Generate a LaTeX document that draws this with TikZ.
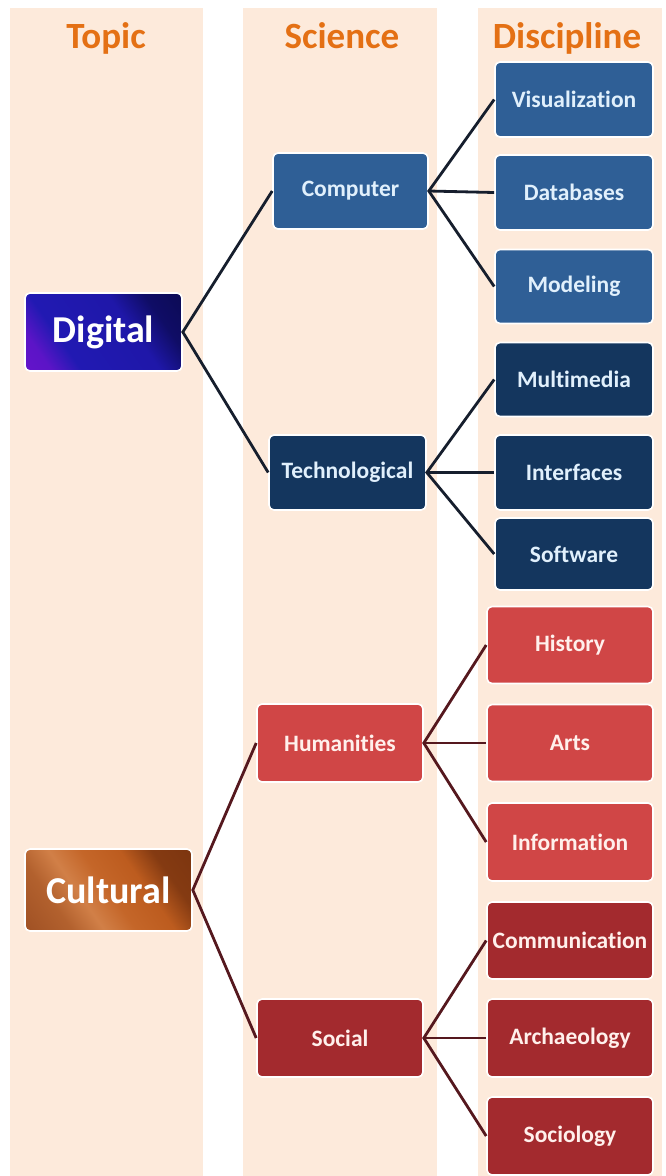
\documentclass[tikz,border=0pt]{standalone}
\usepackage{fontspec}
\setmainfont{Carlito}[Ligatures=NoCommon]
\definecolor{peach}{RGB}{253,234,219}
\definecolor{hdr}{RGB}{228,112,20}
\definecolor{compblue}{RGB}{47,95,150}
\definecolor{techblue}{RGB}{20,54,94}
\definecolor{humred}{RGB}{208,70,70}
\definecolor{socred}{RGB}{163,42,46}
\definecolor{bluetext}{RGB}{225,240,252}
\definecolor{redtext}{RGB}{255,240,236}
\definecolor{bline}{RGB}{22,30,45}
\definecolor{rline}{RGB}{85,24,30}
\pgfdeclarehorizontalshading{digishade}{100bp}{rgb(0bp)=(0.45,0.08,0.82); rgb(24bp)=(0.36,0.08,0.78); rgb(34bp)=(0.13,0.1,0.70); rgb(60bp)=(0.12,0.09,0.66); rgb(72bp)=(0.06,0.05,0.40); rgb(100bp)=(0.03,0.03,0.25)}
\pgfdeclarehorizontalshading{cultshade}{100bp}{rgb(0bp)=(0.55,0.25,0.10); rgb(30bp)=(0.70,0.38,0.18); rgb(40bp)=(0.82,0.50,0.28); rgb(50bp)=(0.77,0.40,0.16); rgb(62bp)=(0.74,0.36,0.12); rgb(72bp)=(0.52,0.23,0.07); rgb(100bp)=(0.45,0.18,0.05)}
\tikzset{
  colbg/.style={fill=peach, draw=none},
  header/.style={text=hdr, anchor=base, font=\fontsize{37}{40}\selectfont\bfseries},
  box/.style={rounded corners=5pt, draw=white, line width=1.6pt, inner sep=0pt,
    font=\fontsize{23.5}{26}\selectfont\bfseries},
  topicbox/.style={box, font=\fontsize{38}{42}\selectfont\bfseries, text=white},
  comp/.style={box, fill=compblue, text=bluetext},
  tech/.style={box, fill=techblue, text=bluetext},
  hum/.style={box, fill=humred, text=redtext},
  soc/.style={box, fill=socred, text=redtext},
  bconn/.style={draw=bline, line width=2.8pt},
  rconn/.style={draw=rline, line width=2.8pt},
}
\begin{document}
\begin{tikzpicture}[x=1pt,y=-1pt]
\useasboundingbox[fill=white] (0,0) rectangle (665,1176);
% column backgrounds
\fill[colbg] (10,8) rectangle (203,1176);
\fill[colbg] (243,8) rectangle (437,1176);
\fill[colbg] (478,8) rectangle (662,1176);
% headers
\node[header] (htopic) at (106,48) {Topic};
\node[header] (hscience) at (342,48) {Science};
\node[header] (hdisc) at (567,48) {Discipline};
% topics
\node[topicbox, minimum width=157pt, minimum height=78pt,
  shade, shading=digishade, shading angle=35] (digital) at (103.5,332) {Digital};
\node[topicbox, minimum width=167pt, minimum height=82pt,
  shade, shading=cultshade, shading angle=35] (cultural) at (108.5,890) {Cultural};
% sciences
\node[comp, minimum width=155pt, minimum height=76pt] (computer) at (350.5,191) {Computer};
\node[tech, minimum width=157pt, minimum height=75pt] (technological) at (347.5,472.5) {Technological};
\node[hum, minimum width=166pt, minimum height=78pt] (humanities) at (340,743) {Humanities};
\node[soc, minimum width=166pt, minimum height=78pt] (social) at (340,1038) {Social};
% disciplines
\node[comp, minimum width=158pt, minimum height=75pt] (visualization) at (574,99.5) {Visualization};
\node[comp, minimum width=158pt, minimum height=75pt] (databases) at (574,192.5) {Databases};
\node[comp, minimum width=158pt, minimum height=74pt] (modeling) at (574,286.5) {Modeling};
\node[tech, minimum width=158pt, minimum height=74pt] (multimedia) at (574,379.5) {Multimedia};
\node[tech, minimum width=158pt, minimum height=75pt] (interfaces) at (574,472.5) {Interfaces};
\node[tech, minimum width=158pt, minimum height=72pt] (software) at (574,554) {Software};
\node[hum, minimum width=166pt, minimum height=77pt] (history) at (570,645) {History};
\node[hum, minimum width=166pt, minimum height=77pt] (arts) at (570,743) {Arts};
\node[hum, minimum width=166pt, minimum height=78pt] (information) at (570,842) {Information};
\node[soc, minimum width=166pt, minimum height=77pt] (communication) at (570,940.5) {Communication};
\node[soc, minimum width=166pt, minimum height=78pt] (archaeology) at (570,1038) {Archaeology};
\node[soc, minimum width=166pt, minimum height=78pt] (sociology) at (570,1136) {Sociology};
% connectors
\draw[bconn] (computer.west) -- (digital.east) -- (technological.west);
\draw[bconn] (visualization.west) -- (computer.east) -- (modeling.west);
\draw[bconn] (computer.east) -- (databases.west);
\draw[bconn] (multimedia.west) -- (technological.east) -- (software.west);
\draw[bconn] (technological.east) -- (interfaces.west);
\draw[rconn] (humanities.west) -- (cultural.east) -- (social.west);
\draw[rconn] (history.west) -- (humanities.east) -- (information.west);
\draw[rconn] (humanities.east) -- (arts.west);
\draw[rconn] (communication.west) -- (social.east) -- (sociology.west);
\draw[rconn] (social.east) -- (archaeology.west);
\end{tikzpicture}
\end{document}
